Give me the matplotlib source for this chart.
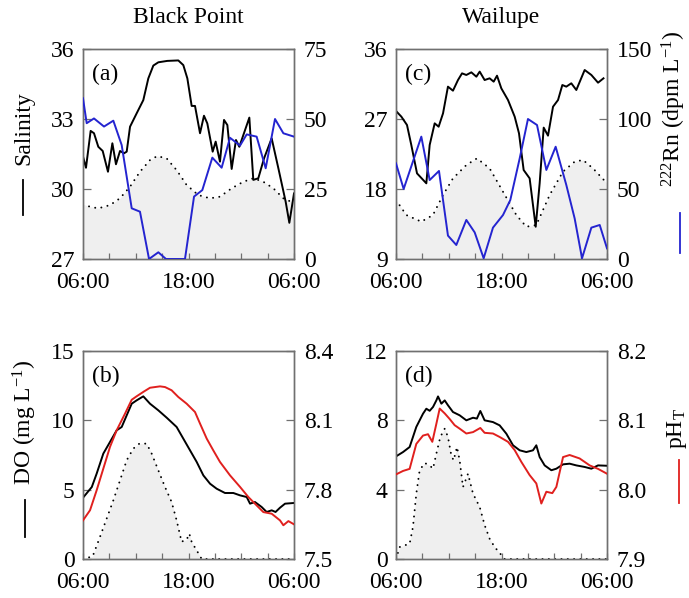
import matplotlib
matplotlib.use('Agg')
import matplotlib.pyplot as plt
from matplotlib.lines import Line2D

plt.rcParams['font.family'] = ['Liberation Serif', 'DejaVu Serif']
plt.rcParams['mathtext.fontset'] = 'custom'
plt.rcParams['mathtext.rm'] = 'Liberation Serif'
plt.rcParams['mathtext.it'] = 'Liberation Serif:italic'
FS = 17

# ---- Black Point: salinity / 222Rn / tide ----
bp_sal_h = [0, 0.34, 0.87, 1.25, 1.74, 2.24, 2.84, 3.34, 3.75, 4.21, 4.66, 4.97, 5.35, 6.1, 6.86,
            7.43, 8.0, 8.57, 9.59, 10.84, 11.41, 11.87, 12.36, 12.74, 13.31, 13.76, 14.14, 14.75,
            15.09, 15.58, 16.04, 16.42, 16.91, 17.4, 17.78, 18.92, 19.37, 19.94, 20.59, 21.46,
            22.22, 23.05, 23.47, 24]
bp_sal = [31.39, 30.91, 32.49, 32.39, 31.81, 31.63, 30.74, 31.96, 31.06, 31.63, 31.53, 31.6, 32.67,
          33.24, 33.81, 34.74, 35.29, 35.43, 35.49, 35.51, 35.31, 34.74, 33.56, 33.56, 32.39, 33.14,
          32.81, 31.6, 32.03, 31.17, 32.96, 32.74, 30.86, 32.1, 31.81, 33.06, 30.39, 30.46, 31.31,
          32.17, 30.89, 29.46, 28.55, 29.81]
bp_rn_h = [0, 0.42, 1.25, 2.39, 3.45, 4.4, 5.54, 6.48, 7.51, 8.57, 9.44, 11.6, 12.63, 13.57, 14.71,
           15.77, 16.72, 17.86, 18.62, 19.75, 20.78, 21.84, 22.79, 24]
bp_rn = [57.4, 48.5, 50.2, 47.3, 49.4, 40.7, 18.1, 16.9, 0.0, 2.4, 0.0, 0.0, 22.3, 24.6, 36.2,
         32.6, 43.3, 40.5, 44.5, 43.7, 32.4, 50.0, 44.9, 43.7]
bp_tide_h = [0, 0.8, 1.74, 3.07, 4.2, 5.35, 6.48, 7.62, 8.45, 9.52, 10.65, 11.79, 13.12, 14.45,
             15.58, 16.91, 18.24, 19.37, 20.51, 21.65, 22.79, 24]
bp_tide = [29.34, 29.24, 29.17, 29.31, 29.6, 30.1, 30.74, 31.24, 31.41, 31.31, 30.81, 30.17, 29.74,
           29.6, 29.67, 30.03, 30.31, 30.46, 30.31, 30.03, 29.6, 29.4]

# ---- Wailupe: salinity / 222Rn / tide ----
wl_sal_h = [0, 0.61, 1.25, 1.74, 2.39, 3.45, 3.83, 4.4, 4.85, 5.35, 5.91, 6.48, 7.05, 7.51, 8.0,
            8.57, 9.14, 9.52, 10.08, 10.65, 11.11, 11.49, 11.98, 12.74, 13.5, 13.99, 14.52, 15.2,
            15.89, 16.34, 16.8, 17.29, 17.86, 18.43, 18.92, 19.37, 19.94, 20.51, 21.46, 22.22,
            22.98, 23.6]
wl_sal = [28.03, 27.3, 26.23, 23.66, 20.01, 18.73, 23.66, 26.44, 26.01, 27.73, 31.16, 30.64, 32.01,
          32.87, 32.66, 33.0, 32.44, 33.09, 32.01, 32.23, 31.8, 32.57, 30.94, 29.44, 27.3, 25.16,
          20.44, 19.37, 13.15, 18.73, 25.89, 24.86, 28.58, 29.44, 31.37, 31.16, 31.59, 30.73,
          33.3, 32.66, 31.67, 32.23]
wl_rn_h = [0, 0.87, 2.88, 3.83, 4.89, 5.91, 6.86, 8.0, 8.95, 9.97, 11.03, 12.17, 13.0, 14.07,
           15.01, 16.04, 17.1, 18.16, 19.37, 20.32, 21.16, 22.22, 23.17, 24]
wl_rn = [68.3, 50.0, 87.4, 56.4, 62.9, 16.7, 10.0, 27.9, 19.0, 0.5, 22.4, 31.4, 42.1, 71.9,
         100.0, 95.7, 63.6, 80.2, 52.9, 29.0, 0.5, 22.4, 24.3, 7.6]
wl_tide_h = [0, 1.18, 2.88, 4.2, 5.35, 6.48, 8.0, 9.21, 10.65, 12.17, 13.69, 14.82, 15.96, 17.48,
             18.99, 20.32, 21.27, 22.41, 24]
wl_tide = [16.58, 14.65, 13.8, 14.65, 17.23, 19.37, 21.08, 21.94, 20.65, 17.65, 14.65, 13.15,
           13.37, 17.23, 20.23, 21.51, 21.73, 20.65, 18.73]

# ---- Black Point: DO / pH / light ----
bp_do_h = [0, 1.0, 1.55, 2.31, 3.07, 3.83, 4.4, 4.97, 5.54, 6.1, 6.86, 7.62, 8.57, 9.52, 10.65,
           11.41, 12.17, 12.93, 13.69, 14.45, 15.2, 16.15, 17.1, 17.86, 18.62, 19.0, 19.56, 20.32,
           20.89, 21.46, 21.9, 22.41, 22.98, 24]
bp_do = [4.42, 5.19, 6.15, 7.6, 8.44, 9.28, 9.52, 10.36, 11.2, 11.44, 11.73, 11.2, 10.72, 10.19,
         9.52, 8.68, 7.84, 7.0, 6.03, 5.43, 5.07, 4.76, 4.76, 4.59, 4.47, 3.99, 4.11, 3.75, 3.39,
         3.51, 3.39, 3.7, 3.99, 4.04]
bp_ph_h = [0, 0.8, 1.55, 2.31, 3.07, 3.83, 4.78, 5.54, 6.1, 6.86, 7.62, 8.76, 9.33, 10.08, 10.84,
           11.79, 12.74, 13.31, 14.07, 14.82, 15.58, 16.72, 17.86, 18.81, 19.75, 20.51, 21.46,
           22.41, 22.79, 23.36, 24]
bp_ph = [7.667, 7.711, 7.797, 7.891, 7.985, 8.057, 8.129, 8.189, 8.204, 8.223, 8.241, 8.247,
         8.244, 8.230, 8.201, 8.172, 8.136, 8.086, 8.021, 7.970, 7.920, 7.862, 7.812, 7.768,
         7.732, 7.703, 7.696, 7.667, 7.646, 7.664, 7.650]
bp_par_h = [0, 1.1, 1.93, 2.69, 3.45, 4.21, 4.97, 5.72, 6.41, 7.24, 7.81, 8.57, 9.33, 10.08, 10.65,
            11.22, 11.5, 11.79, 12.09, 12.36, 12.93, 13.5, 24]
bp_par = [0, 0.19, 1.59, 2.91, 4.23, 5.67, 7.12, 7.96, 8.32, 8.32, 7.6, 6.39, 5.19, 4.11, 2.79,
          1.23, 1.35, 1.39, 1.83, 1.23, 0.62, 0.0, 0.0]

# ---- Wailupe: DO / pH / light ----
wl_do_h = [0, 0.8, 1.55, 2.31, 3.07, 3.45, 3.83, 4.21, 4.59, 4.78, 5.16, 5.54, 5.91, 6.48, 7.24,
           8.0, 8.76, 9.2, 9.59, 10.08, 11.03, 11.79, 12.55, 13.31, 14.07, 14.82, 15.58, 15.96,
           16.34, 16.91, 17.67, 18.24, 19.0, 19.75, 20.51, 21.46, 22.22, 22.98, 24]
wl_do = [5.92, 6.17, 6.46, 7.62, 8.38, 8.67, 8.55, 8.77, 9.15, 9.38, 8.96, 9.15, 8.87, 8.48, 8.29,
         8.0, 8.15, 8.1, 8.54, 8.0, 7.9, 7.71, 7.23, 6.56, 6.27, 6.17, 6.27, 6.56, 5.88, 5.4,
         5.12, 5.21, 5.46, 5.5, 5.4, 5.31, 5.21, 5.4, 5.38]
wl_ph_h = [0, 0.8, 1.55, 2.31, 3.07, 3.64, 4.13, 4.59, 4.97, 5.54, 6.1, 6.67, 7.24, 8.0, 8.76,
           9.59, 10.08, 11.03, 11.79, 12.74, 13.5, 14.26, 15.2, 15.96, 16.53, 17.1, 17.78, 18.24,
           19.0, 19.75, 20.89, 22.03, 22.98, 24]
wl_ph = [8.022, 8.027, 8.030, 8.066, 8.078, 8.080, 8.069, 8.095, 8.117, 8.110, 8.102, 8.093,
         8.088, 8.081, 8.083, 8.089, 8.082, 8.081, 8.076, 8.069, 8.057, 8.040, 8.021, 8.009,
         7.980, 7.997, 7.995, 8.004, 8.047, 8.050, 8.045, 8.035, 8.030, 8.023]
wl_par_h = [0, 0.42, 1.0, 1.55, 1.93, 2.31, 2.69, 3.26, 3.83, 4.21, 4.59, 5.04, 5.54, 5.91, 6.29,
            6.55, 6.94, 7.24, 7.62, 8.19, 8.76, 9.52, 10.08, 10.65, 11.22, 11.79, 12.36, 24]
wl_par = [0, 0.69, 0.79, 0.88, 1.85, 3.77, 5.12, 5.54, 5.4, 5.21, 6.08, 7.04, 7.52, 7.04, 5.98,
          5.69, 6.46, 5.69, 4.15, 4.92, 3.77, 3.0, 1.96, 1.17, 0.69, 0.35, 0.0, 0.0]

site_titles = ['Black Point', 'Wailupe']
time_labels = ['06:00', '18:00', '06:00']

BLUE = '#2424d0'
RED = '#e0201e'
FILL = '#efefef'
SPINE = '#707070'

fig = plt.figure(figsize=(6.89, 5.98), dpi=100)
W, H = 211 / 689, 210 / 598
pos = {'a': [83 / 689, 339 / 598, W, H], 'c': [396 / 689, 339 / 598, W, H],
       'b': [83 / 689, 39 / 598, W, 208 / 598], 'd': [396 / 689, 39 / 598, W, 208 / 598]}


def panel(key, bg_h, bg, l_h, l_y, r_h, r_y, rcolor, lyl, ryl, rfmt):
    ax = fig.add_axes(pos[key])
    ax.fill_between(bg_h, lyl[0], bg, color=FILL, lw=0, zorder=0)
    # dotted boundary of the shaded background series
    ax.plot(bg_h, bg, color='black', lw=1.4, ls=(0, (0.05, 3.2)), dash_capstyle='round', zorder=1)
    ax.plot(l_h, l_y, color='black', lw=1.4, zorder=3)
    ax.set_xlim(0, 24)
    ax.set_ylim(lyl[0], lyl[-1])
    ax.set_yticks(lyl)
    ax.set_xticks([0, 12, 24])
    ax.set_xticklabels(time_labels)
    ax.set_xticks(range(0, 25, 3), minor=True)
    ax.tick_params(axis='x', which='both', direction='in', length=4, width=0.9, color=SPINE,
                   labelsize=FS, pad=9, top=False)
    ax.tick_params(axis='y', direction='in', length=6, width=0.9, color=SPINE, labelsize=FS, pad=6)
    ax.text(0.045, 0.93, '(' + key + ')', transform=ax.transAxes, fontsize=FS, va='top', ha='left')

    ax2 = ax.twinx()
    ax2.plot(r_h, r_y, color=rcolor, lw=1.4, zorder=3)
    ax2.set_ylim(ryl[0], ryl[-1])
    ax2.set_yticks(ryl)
    ax2.set_yticklabels([rfmt.format(v) for v in ryl])
    ax2.tick_params(axis='y', direction='in', length=6, width=0.9, color=SPINE, labelsize=FS, pad=7)
    for a in (ax, ax2):
        for s in a.spines.values():
            s.set_color(SPINE)
            s.set_linewidth(1.0)
    return ax, ax2


axa, _ = panel('a', bp_tide_h, bp_tide, bp_sal_h, bp_sal, bp_rn_h, bp_rn, BLUE,
               [27, 30, 33, 36], [0, 25, 50, 75], '{:g}')
axc, _ = panel('c', wl_tide_h, wl_tide, wl_sal_h, wl_sal, wl_rn_h, wl_rn, BLUE,
               [9, 18, 27, 36], [0, 50, 100, 150], '{:g}')
axb, _ = panel('b', bp_par_h, bp_par, bp_do_h, bp_do, bp_ph_h, bp_ph, RED,
               [0, 5, 10, 15], [7.5, 7.8, 8.1, 8.4], '{:.1f}')
axd, _ = panel('d', wl_par_h, wl_par, wl_do_h, wl_do, wl_ph_h, wl_ph, RED,
               [0, 4, 8, 12], [7.9, 8.0, 8.1, 8.2], '{:.1f}')

axa.set_title(site_titles[0], fontsize=FS, pad=19)
axc.set_title(site_titles[1], fontsize=FS, pad=19)

# y labels with coloured line keys
fig.text(0.034, 0.786, 'Salinity', rotation=90, fontsize=FS, ha='center', va='center')
fig.add_artist(Line2D([0.034, 0.034], [0.640, 0.699], color='black', lw=1.3,
                      transform=fig.transFigure))
fig.text(0.036, 0.294, 'DO (mg L$^{-1}$)', rotation=90, fontsize=FS, ha='center', va='center')
fig.add_artist(Line2D([0.036, 0.036], [0.102, 0.164], color='black', lw=1.3,
                      transform=fig.transFigure))
fig.text(0.978, 0.818, '$^{222}$Rn (dpm L$^{-1}$)', rotation=90, fontsize=FS,
         ha='center', va='center')
fig.add_artist(Line2D([0.987, 0.987], [0.577, 0.644], color=BLUE, lw=1.3,
                      transform=fig.transFigure))
fig.text(0.982, 0.283, 'pH$_\\mathregular{T}$', rotation=90, fontsize=FS, ha='center', va='center')
fig.add_artist(Line2D([0.985, 0.985], [0.159, 0.231], color=RED, lw=1.3,
                      transform=fig.transFigure))

fig.savefig('out.png', dpi=100)
